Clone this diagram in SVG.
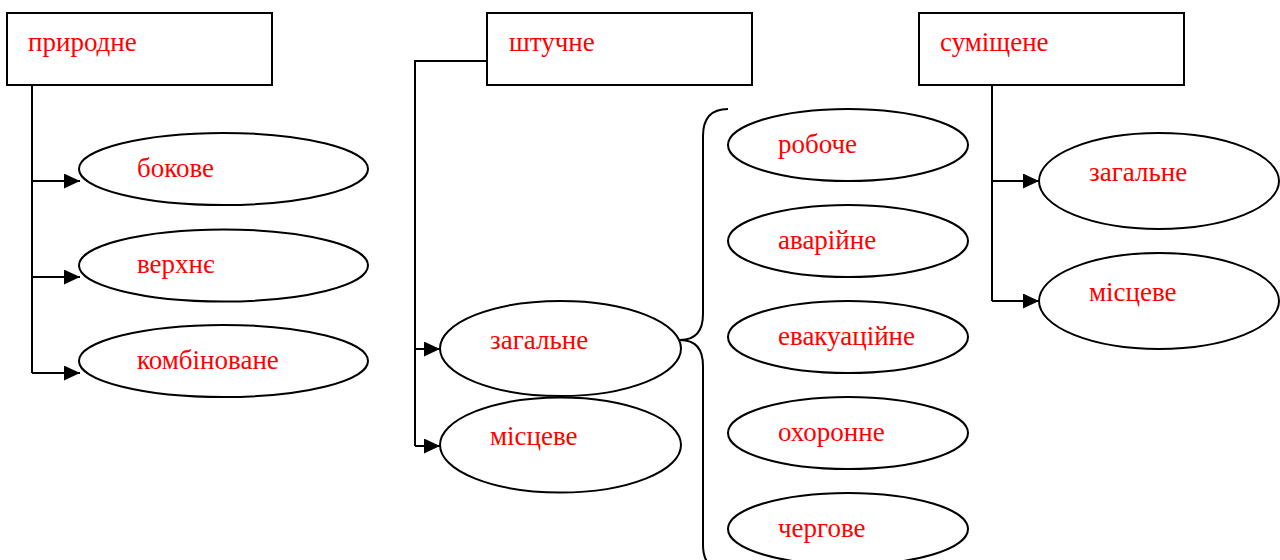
<svg xmlns="http://www.w3.org/2000/svg" width="1280" height="560" viewBox="0 0 1280 560">
<style>
.box{fill:#fff;stroke:#000;stroke-width:2}
.el{fill:#fff;stroke:#000;stroke-width:2}
.ln{fill:none;stroke:#000;stroke-width:2}
.t{font-family:"Liberation Serif","Times New Roman",serif;font-size:27px;fill:#ff0000}
</style>
<defs>
<marker id="ah" markerUnits="userSpaceOnUse" markerWidth="16" markerHeight="16" refX="16" refY="7.5" orient="auto">
<path d="M0,0 L16,7.5 L0,15 z" fill="#000"/>
</marker>
</defs>
<rect width="1280" height="560" fill="#fff"/>
<g id="connectors">
<path class="ln" d="M32,85 V373"/>
<path class="ln" d="M32,181 H80" marker-end="url(#ah)"/>
<path class="ln" d="M32,277 H80" marker-end="url(#ah)"/>
<path class="ln" d="M32,373 H80" marker-end="url(#ah)"/>
<path class="ln" d="M487,61 H415 V446"/>
<path class="ln" d="M415,349 H440" marker-end="url(#ah)"/>
<path class="ln" d="M415,446 H440" marker-end="url(#ah)"/>
<path class="ln" d="M992,85 V301"/>
<path class="ln" d="M992,181 H1039" marker-end="url(#ah)"/>
<path class="ln" d="M992,301 H1039" marker-end="url(#ah)"/>
<path class="ln" d="M728,109 Q703,109 703,136 V314 Q703,340 680,340 Q703,340 703,366 V545 Q703,571 728,571"/>
</g>
<g id="n-pryrodne"><rect class="box" x="7" y="13" width="265" height="72"/><text class="t" x="28" y="51">природне</text></g>
<g id="n-shtuchne"><rect class="box" x="487" y="13" width="265" height="72"/><text class="t" x="509" y="51">штучне</text></g>
<g id="n-sumishchene"><rect class="box" x="919" y="13" width="265" height="72"/><text class="t" x="940" y="51">суміщене</text></g>
<g id="n-bokove"><ellipse class="el" cx="223.5" cy="169" rx="144.5" ry="36"/><text class="t" x="137" y="177">бокове</text></g>
<g id="n-verkhnie"><ellipse class="el" cx="223.5" cy="265.5" rx="144.5" ry="36"/><text class="t" x="137" y="273">верхнє</text></g>
<g id="n-kombinovane"><ellipse class="el" cx="223.5" cy="361" rx="144.5" ry="36"/><text class="t" x="137" y="369">комбіноване</text></g>
<g id="n-zahalne1"><ellipse class="el" cx="560.5" cy="348.5" rx="120.5" ry="47.5"/><text class="t" x="490" y="349">загальне</text></g>
<g id="n-mistseve1"><ellipse class="el" cx="560.5" cy="445" rx="120.5" ry="47.5"/><text class="t" x="490" y="445">місцеве</text></g>
<g id="n-roboche"><ellipse class="el" cx="848" cy="145" rx="120" ry="36"/><text class="t" x="778" y="153">робоче</text></g>
<g id="n-avariine"><ellipse class="el" cx="848" cy="241" rx="120" ry="36"/><text class="t" x="778" y="249">аварійне</text></g>
<g id="n-evakuatsiine"><ellipse class="el" cx="848" cy="337" rx="120" ry="36"/><text class="t" x="778" y="345">евакуаційне</text></g>
<g id="n-okhoronne"><ellipse class="el" cx="848" cy="433" rx="120" ry="36"/><text class="t" x="778" y="441">охоронне</text></g>
<g id="n-cherhove"><ellipse class="el" cx="848" cy="529" rx="120" ry="36"/><text class="t" x="778" y="537">чергове</text></g>
<g id="n-zahalne2"><ellipse class="el" cx="1159" cy="181" rx="120" ry="48"/><text class="t" x="1089" y="181">загальне</text></g>
<g id="n-mistseve2"><ellipse class="el" cx="1159" cy="301" rx="120" ry="48"/><text class="t" x="1089" y="301">місцеве</text></g>
</svg>
